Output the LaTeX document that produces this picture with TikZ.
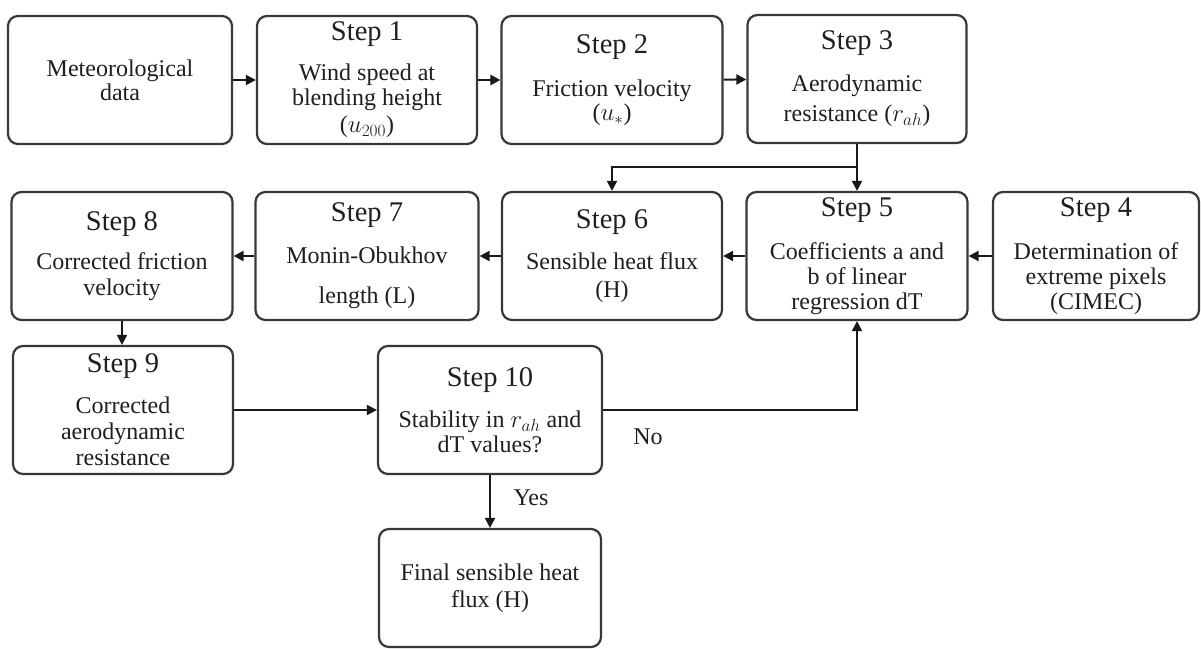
\documentclass[tikz,border=0pt]{standalone}
\usepackage{fontspec}
\setmainfont{Liberation Serif}
\usetikzlibrary{arrows.meta}
\newcommand\stepfont{\fontsize{28.5}{34}\selectfont}
\begin{document}
\begin{tikzpicture}[x=1pt,y=-1pt,
  box/.style={draw=black!78, line width=2.2pt, rounded corners=10pt, align=center,
    inner sep=0pt, font=\fontsize{24}{25}\selectfont, text=black!88,
    minimum height=128pt},
  conn/.style={line width=2pt, draw=black!90, -{Triangle[length=10pt,width=10pt]}},
  lbl/.style={font=\fontsize{24}{25}\selectfont, text=black!88}
]
\useasboundingbox[fill=white] (0,0) rectangle (1201,648);

% Row 1
\node[box, minimum width=224pt] (met) at (120,80) {Meteorological\\[-1pt]data};
\node[box, minimum width=220pt] (s1) at (367,80) {{\stepfont Step 1}\\[15pt]Wind speed at\\blending height\\[2pt]($u_{200}$)};
\node[box, minimum width=221pt] (s2) at (612,80) {{\stepfont Step 2}\\[18pt]Friction velocity\\[-1pt]($u_{*}$)};
\node[box, minimum width=219pt] (s3) at (857,79) {{\stepfont Step 3}\\[17pt]Aerodynamic\\[5pt]resistance ($r_{ah}$)};

% Row 2
\node[box, minimum width=221pt] (s8) at (122,256) {{\stepfont Step 8}\\[14pt]Corrected friction\\[1pt]velocity};
\node[box, minimum width=223pt] (s7) at (367,256) {{\stepfont Step 7}\\[17pt]Monin-Obukhov\\[15pt]length (L)};
\node[box, minimum width=220pt] (s6) at (612,256) {{\stepfont Step 6}\\[16pt]Sensible heat flux\\[3pt](H)};
\node[box, minimum width=221pt] (s5) at (857,256) {{\stepfont Step 5}\\[18pt]Coefficients a and\\b of linear\\regression dT};
\node[box, minimum width=206pt] (s4) at (1096,256) {{\stepfont Step 4}\\[18pt]Determination of\\extreme pixels\\(CIMEC)};

% Row 3
\node[box, minimum width=220pt] (s9) at (123,410) {{\stepfont Step 9}\\[16pt]Corrected\\[1pt]aerodynamic\\[1pt]resistance};
\node[box, minimum width=224pt] (s10) at (490,410) {{\stepfont Step 10}\\[16pt]Stability in $r_{ah}$ and\\[0pt]dT values?};
\node[box, minimum width=222pt, minimum height=118pt] (fin) at (490,588) {Final sensible heat\\[2pt]flux (H)};

% Labels
\node[lbl] (yes) at (531,498) {Yes};
\node[lbl] (no) at (648,437) {No};

% Connectors
\draw[conn] (met) -- (s1);
\draw[conn] (s1) -- (s2);
\draw[conn] (s2) -- (s3);
\draw[conn] (s3.south) -- (s5.north);
\coordinate (br) at (857,167);
\draw[conn] (br) -| (s6.north);
\draw[conn] (s4) -- (s5);
\draw[conn] (s5) -- (s6);
\draw[conn] (s6) -- (s7);
\draw[conn] (s7) -- (s8);
\draw[conn] (s8.south) -- (s8.south |- s9.north);
\draw[conn] (s9) -- (s10);
\draw[conn] (s10.east) -| (s5.south);
\draw[conn] (s10) -- (fin);
\end{tikzpicture}
\end{document}
